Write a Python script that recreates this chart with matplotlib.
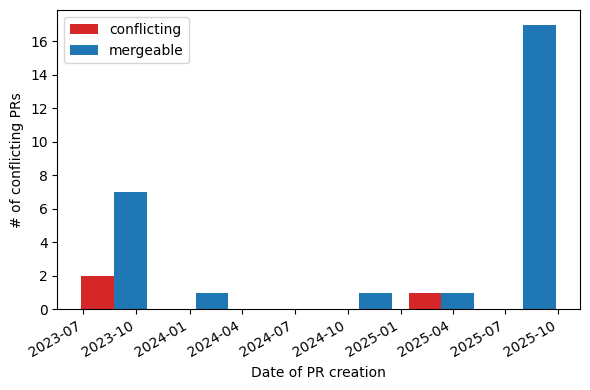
import datetime as dt
import matplotlib
matplotlib.use("Agg")
import matplotlib.pyplot as plt
import matplotlib.dates as mdates

# histogram bins (6 equal bins between first and last PR date)
first_pr = dt.datetime(2023, 6, 13)
last_pr = dt.datetime(2025, 10, 11)
n_bins = 6

conflicting_counts = [2, 0, 0, 0, 1, 0]
mergeable_counts = [7, 1, 0, 1, 1, 17]

lo = mdates.date2num(first_pr)
hi = mdates.date2num(last_pr)
step = (hi - lo) / n_bins
centers = [lo + step * (i + 0.5) for i in range(n_bins)]

fig, ax = plt.subplots(figsize=(5.9, 3.9), dpi=100)
ax.hist([centers, centers], bins=n_bins, range=(lo, hi),
        weights=[conflicting_counts, mergeable_counts],
        color=['#d62728', '#1f77b4'], label=['conflicting', 'mergeable'])
ax.xaxis_date()
ax.legend(loc='upper left')
ax.set_xlabel('Date of PR creation')
ax.set_ylabel('# of conflicting PRs')
fig.autofmt_xdate()
plt.tight_layout(pad=0.75)
plt.savefig('out.png')
